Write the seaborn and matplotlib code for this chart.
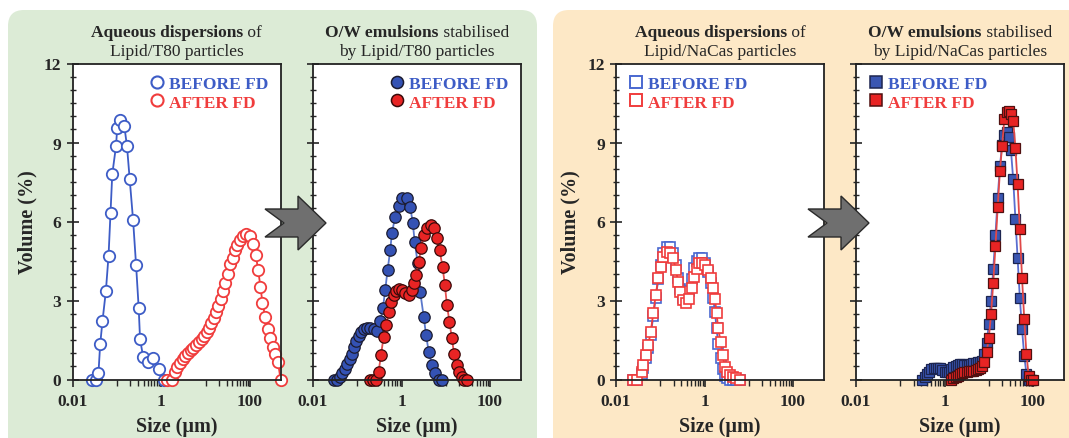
"""Particle size distributions before/after freeze drying (FD)."""

import matplotlib

matplotlib.use("Agg")
import matplotlib.pyplot as plt
import seaborn as sns
from matplotlib.lines import Line2D
from matplotlib.patches import FancyBboxPatch, Polygon
from matplotlib.ticker import FixedFormatter, FixedLocator, MultipleLocator, NullFormatter

W, H = 1069, 439

# --- Lipid/T80 aqueous dispersions (open circles) ---
t80_disp_before_x = [0.0272, 0.0336, 0.0385, 0.042, 0.0474, 0.0565, 0.0649, 0.0719, 0.0787, 0.0955,
                     0.102, 0.119, 0.147, 0.169, 0.194, 0.232, 0.271, 0.310, 0.333, 0.391, 0.507,
                     0.659, 0.883, 1.146]
t80_disp_before_y = [0, 0, 0.25, 1.33, 2.22, 3.36, 4.70, 6.33, 7.79, 8.86, 9.56, 9.85, 9.63, 8.86,
                     7.63, 6.05, 4.34, 2.73, 1.53, 0.86, 0.67, 0.80, 0.39, 0]
t80_disp_after_x = [1.37, 1.77, 2.00, 2.31, 2.64, 3.04, 3.50, 4.01, 4.62, 5.32, 6.09, 7.02, 8.08, 9.25,
                    10.5, 11.8, 13.3, 15.1, 17.1, 19.2, 21.8, 24.5, 27.7, 31.4, 36.0, 41.4, 45.9,
                    51.0, 58.7, 68.7, 81.6, 100, 116, 135, 153, 172, 191, 220, 253, 286, 329, 371,
                    427, 489]
t80_disp_after_y = [0, 0, 0.29, 0.48, 0.63, 0.77, 0.90, 1.01, 1.11, 1.20, 1.30, 1.41, 1.53, 1.66,
                    1.81, 1.96, 2.15, 2.35, 2.57, 2.80, 3.06, 3.35, 3.67, 4.01, 4.39, 4.63, 4.92,
                    5.10, 5.29, 5.46, 5.52, 5.46, 5.14, 4.73, 4.15, 3.52, 2.92, 2.38, 1.91, 1.56,
                    1.24, 0.95, 0.67, 0]

# --- O/W emulsions stabilised by Lipid/T80 particles (filled circles) ---
t80_emul_before_x = [0.0292, 0.0348, 0.0399, 0.0452, 0.0516, 0.0586, 0.0671, 0.0767, 0.0865, 0.0948,
                     0.107, 0.121, 0.139, 0.166, 0.196, 0.242, 0.279, 0.330, 0.380, 0.428, 0.483,
                     0.556, 0.607, 0.721, 0.857, 1.05, 1.32, 1.57, 1.79, 1.99, 2.32, 2.64, 3.17,
                     3.59, 4.11, 4.90, 5.82, 6.92, 8.24]
t80_emul_before_y = [0, 0, 0.10, 0.23, 0.39, 0.57, 0.76, 0.98, 1.24, 1.46, 1.66, 1.81, 1.91, 1.94,
                     1.94, 1.90, 1.84, 2.22, 2.72, 3.39, 4.15, 4.91, 5.58, 6.18, 6.60, 6.90, 6.90,
                     6.56, 5.96, 5.21, 4.41, 3.33, 2.38, 1.68, 1.05, 0.54, 0.23, 0, 0]
t80_emul_after_x = [0.196, 0.226, 0.268, 0.303, 0.343, 0.393, 0.452, 0.509, 0.577, 0.661, 0.759,
                    0.888, 1.02, 1.21, 1.44, 1.72, 1.96, 2.15, 2.42, 2.78, 3.14, 3.74, 4.61, 5.47,
                    6.29, 7.21, 8.43, 9.53, 10.6, 12.1, 13.7, 15.5, 17.8, 20.1, 23.1, 26.0, 29.9]
t80_emul_after_y = [0, 0, 0, 0.29, 0.92, 1.62, 2.06, 2.57, 2.95, 3.20, 3.37, 3.42, 3.39, 3.30,
                    3.20, 3.39, 3.65, 3.96, 4.47, 4.98, 5.49, 5.77, 5.87, 5.75, 5.37, 4.92, 4.29,
                    3.59, 2.83, 2.19, 1.56, 0.95, 0.54, 0.29, 0.10, 0, 0]

# --- Lipid/NaCas aqueous dispersions (open squares) ---
nacas_disp_x = [0.0246, 0.0293, 0.038, 0.0414, 0.0468, 0.0536, 0.0607, 0.0696, 0.0787, 0.0902,
                0.102, 0.117, 0.139, 0.166, 0.196, 0.226, 0.255, 0.279, 0.320, 0.380, 0.452,
                0.512, 0.586, 0.664, 0.760, 0.861, 1.02, 1.21, 1.39, 1.57, 1.72, 1.87, 2.04,
                2.31, 2.56, 2.88, 3.26, 3.74, 4.30, 5.11, 6.30]
nacas_disp_before_y = [0, 0, 0.20, 0.45, 0.80, 1.20, 1.70, 2.40, 3.10, 3.80, 4.35, 4.80, 5.05, 5.05,
                       4.80, 4.35, 3.85, 3.45, 3.10, 3.05, 3.35, 3.80, 4.25, 4.50, 4.62, 4.60, 4.42,
                       4.10, 3.65, 3.10, 2.55, 1.95, 1.35, 0.80, 0.40, 0.15, 0.05, 0, 0, 0, 0]
nacas_disp_after_y = [0, 0, 0.29, 0.54, 0.92, 1.30, 1.81, 2.51, 3.20, 3.84, 4.28, 4.66, 4.85, 4.82,
                      4.60, 4.15, 3.71, 3.33, 3.01, 2.89, 3.07, 3.46, 3.90, 4.21, 4.41, 4.44, 4.34,
                      4.15, 3.84, 3.46, 3.07, 2.51, 1.94, 1.43, 0.92, 0.48, 0.29, 0.16, 0.10, 0.06,
                      0]

# --- O/W emulsions stabilised by Lipid/NaCas particles (filled squares) ---
nacas_emul_before_x = [0.317, 0.356, 0.399, 0.448, 0.502, 0.564, 0.632, 0.710, 0.796, 0.893, 1.002,
                       1.125, 1.262, 1.416, 1.589, 1.783, 2.000, 2.244, 2.518, 2.825, 3.170, 3.557,
                       3.991, 4.477, 5.024, 5.637, 6.325, 7.096, 7.962, 8.934, 10.02, 11.25, 12.62,
                       14.16, 15.89, 17.83, 20.00, 22.44, 25.18, 28.25, 31.70, 35.57, 39.91, 44.77,
                       50.24, 56.37, 63.25, 70.96, 79.62, 89.34]
nacas_emul_before_y = [0, 0.10, 0.20, 0.30, 0.38, 0.43, 0.45, 0.45, 0.42, 0.36, 0.30, 0.27, 0.30,
                       0.38, 0.46, 0.52, 0.56, 0.58, 0.58, 0.56, 0.55, 0.56, 0.60, 0.62, 0.64, 0.66,
                       0.68, 0.70, 0.95, 1.40, 2.10, 3.00, 4.20, 5.50, 6.90, 8.10, 8.90, 9.30, 9.40,
                       9.20, 8.70, 7.60, 6.10, 4.60, 3.10, 1.90, 0.90, 0.20, 0, 0]
nacas_emul_after_x = [1.416, 1.589, 1.783, 2.000, 2.244, 2.518, 2.825, 3.170, 3.557, 3.991, 4.477,
                      5.024, 5.637, 6.325, 7.096, 7.962, 8.934, 10.02, 11.25, 12.62, 14.16, 15.89,
                      17.83, 20.00, 22.44, 25.18, 28.25, 31.70, 35.57, 39.91, 44.77, 50.24, 56.37,
                      63.25, 70.96, 79.62, 89.34, 100.2]
nacas_emul_after_y = [0, 0.05, 0.10, 0.15, 0.20, 0.25, 0.28, 0.30, 0.32, 0.32, 0.33, 0.35, 0.38,
                      0.42, 0.50, 0.65, 1.03, 1.59, 2.48, 3.68, 5.08, 6.54, 7.92, 8.87, 9.89, 10.14,
                      10.20, 10.10, 9.82, 8.81, 7.41, 5.70, 3.86, 2.29, 0.96, 0.14, 0, 0]

titles = [
    ("Aqueous dispersions", " of", "Lipid/T80 particles"),
    ("O/W emulsions", " stabilised", "by Lipid/T80 particles"),
    ("Aqueous dispersions", " of", "Lipid/NaCas particles"),
    ("O/W emulsions", " stabilised", "by Lipid/NaCas particles"),
]
legend_labels = ["BEFORE FD", "AFTER FD"]
x_major = [0.01, 1, 100]
x_major_labels = ["0.01", "1", "100"]
x_minor = [0.1, 0.2, 0.3, 0.4, 0.5, 0.6, 0.7, 0.8, 0.9, 10, 20, 30, 40, 50, 60, 70, 80, 90]
y_major = [0, 3, 6, 9, 12]

BLUE = "#3d5cc6"
RED = "#f03c3c"
BLUE_FILL = "#3452b4"
RED_FILL = "#e82424"

sns.set_style("ticks")
plt.rcParams["font.family"] = ["Liberation Serif", "DejaVu Serif"]
plt.rcParams["axes.linewidth"] = 1.3

fig = plt.figure(figsize=(W / 100, H / 100), dpi=100, facecolor="white")

# background panels and overlay (pixel coordinates)
bg = fig.add_axes([0, 0, 1, 1], zorder=-10)
bg.set_xlim(0, W)
bg.set_ylim(H, 0)
bg.axis("off")
bg.add_patch(FancyBboxPatch((8, 11), 529, 445, boxstyle="round,pad=0,rounding_size=16",
                            fc="#dcebd6", ec="none"))
bg.add_patch(FancyBboxPatch((553, 11), 530, 445, boxstyle="round,pad=0,rounding_size=16",
                            fc="#fde8c6", ec="none"))

fg = fig.add_axes([0, 0, 1, 1], zorder=10)
fg.set_xlim(0, W)
fg.set_ylim(H, 0)
fg.axis("off")


def rect(left, right, top, bottom):
    return [left / W, 1 - bottom / H, (right - left) / W, (bottom - top) / H]


boxes = [(72.5, 281, 64.5, 380.5), (313, 521, 64.5, 380.5),
         (616, 824, 64.5, 380.5), (856, 1064, 64.5, 380.5)]
axes = [fig.add_axes(rect(*b)) for b in boxes]

series = [
    [(t80_disp_before_x, t80_disp_before_y), (t80_disp_after_x, t80_disp_after_y)],
    [(t80_emul_before_x, t80_emul_before_y), (t80_emul_after_x, t80_emul_after_y)],
    [(nacas_disp_x, nacas_disp_before_y), (nacas_disp_x, nacas_disp_after_y)],
    [(nacas_emul_before_x, nacas_emul_before_y), (nacas_emul_after_x, nacas_emul_after_y)],
]
styles = [
    [dict(marker="o", ms=8.2, mfc="white", mec=BLUE, color=BLUE, mew=1.3),
     dict(marker="o", ms=8.2, mfc="white", mec=RED, color=RED, mew=1.3)],
    [dict(marker="o", ms=8.2, mfc=BLUE_FILL, mec="#1c1c30", color="#5a78cc", mew=0.9),
     dict(marker="o", ms=8.2, mfc=RED_FILL, mec="#3a0a0a", color="#e65050", mew=0.9)],
    [dict(marker="s", ms=7.6, mfc="white", mec="#4a68d0", color="#4a68d0", mew=1.2),
     dict(marker="s", ms=7.6, mfc="white", mec=RED, color=RED, mew=1.2)],
    [dict(marker="s", ms=7.6, mfc="#3a56b2", mec="#1c2550", color="#5a6ed0", mew=0.9),
     dict(marker="s", ms=7.6, mfc=RED_FILL, mec="#501010", color="#e04848", mew=0.9)],
]
legend_loc = ["upper right", "upper right", "upper left", "upper left"]

for i, ax in enumerate(axes):
    handles = []
    for (xs, ys), st in zip(series[i], styles[i]):
        sns.lineplot(x=xs, y=ys, ax=ax, estimator=None, sort=False, legend=False,
                     color=st["color"], linewidth=1.3, marker=st["marker"],
                     markersize=st["ms"], markerfacecolor=st["mfc"],
                     markeredgecolor=st["mec"], markeredgewidth=st["mew"], clip_on=False)
        handles.append(Line2D([], [], ls="none", marker=st["marker"], ms=st["ms"] + 0.5,
                              mfc=st["mfc"], mec=st["mec"], mew=st["mew"] + 0.2))
    ax.set_xscale("log")
    ax.set_xlim(0.01, 500)
    ax.set_ylim(0, 12)
    ax.xaxis.set_major_locator(FixedLocator(x_major))
    ax.xaxis.set_major_formatter(FixedFormatter(x_major_labels))
    ax.xaxis.set_minor_locator(FixedLocator(x_minor))
    ax.xaxis.set_minor_formatter(NullFormatter())
    ax.yaxis.set_major_locator(FixedLocator(y_major))
    ax.yaxis.set_minor_locator(MultipleLocator(0.5))
    ax.tick_params(axis="x", which="major", direction="out", length=5, width=1.2, pad=5,
                   labelsize=12.5)
    ax.tick_params(axis="x", which="minor", direction="out", length=4, width=1.0)
    ax.tick_params(axis="y", which="major", direction="inout", length=8, width=1.2, pad=4,
                   labelsize=12.5)
    ax.tick_params(axis="y", which="minor", direction="inout", length=5, width=1.0)
    for lab in ax.get_xticklabels() + ax.get_yticklabels():
        lab.set_fontweight("bold")
    for sp in ax.spines.values():
        sp.set_visible(True)
        sp.set_color("#222222")
    ax.set_xlabel("Size (µm)", fontsize=14.5, fontweight="bold")
    ax.xaxis.set_label_coords(0.5, -0.115)
    if i in (0, 2):
        ax.set_ylabel("Volume (%)", fontsize=14.5, fontweight="bold")
        ax.yaxis.set_label_coords(-0.17, 0.5)
    else:
        ax.set_ylabel("")
        ax.tick_params(axis="y", labelleft=False)
    ax.legend(handles, legend_labels, loc=legend_loc[i], frameon=False,
              handlelength=0.9, handletextpad=0.25, labelspacing=0.15,
              borderaxespad=0.3, labelcolor=[BLUE, RED],
              prop={"family": "Liberation Serif", "weight": "bold", "size": 12.5})

# two-line titles with a bold lead phrase
renderer = fig.canvas.get_renderer()
for (left, right, top, bottom), (bold, rest, line2) in zip(boxes, titles):
    cx = (left + right) / 2
    t1 = fg.text(0, 33, bold, fontsize=12.5, fontweight="bold", ha="left", va="center")
    t2 = fg.text(0, 33, rest, fontsize=12.5, ha="left", va="center")
    w1 = t1.get_window_extent(renderer).width
    w2 = t2.get_window_extent(renderer).width
    x0 = cx - (w1 + w2) / 2
    t1.set_x(x0)
    t2.set_x(x0 + w1)
    fg.text(cx, 52, line2, fontsize=12.5, ha="center", va="center")

# notched block arrows between the subplots
for dx in (0, 543):
    pts = [(265 + dx, 210), (298 + dx, 210), (298 + dx, 197), (326 + dx, 224),
           (298 + dx, 251), (298 + dx, 238), (265 + dx, 238), (284 + dx, 224)]
    fg.add_patch(Polygon(pts, closed=True, fc="#6f6f6f", ec="#2a2a2a", lw=1.0))

fig.savefig("out.png", dpi=100)
plt.close(fig)
